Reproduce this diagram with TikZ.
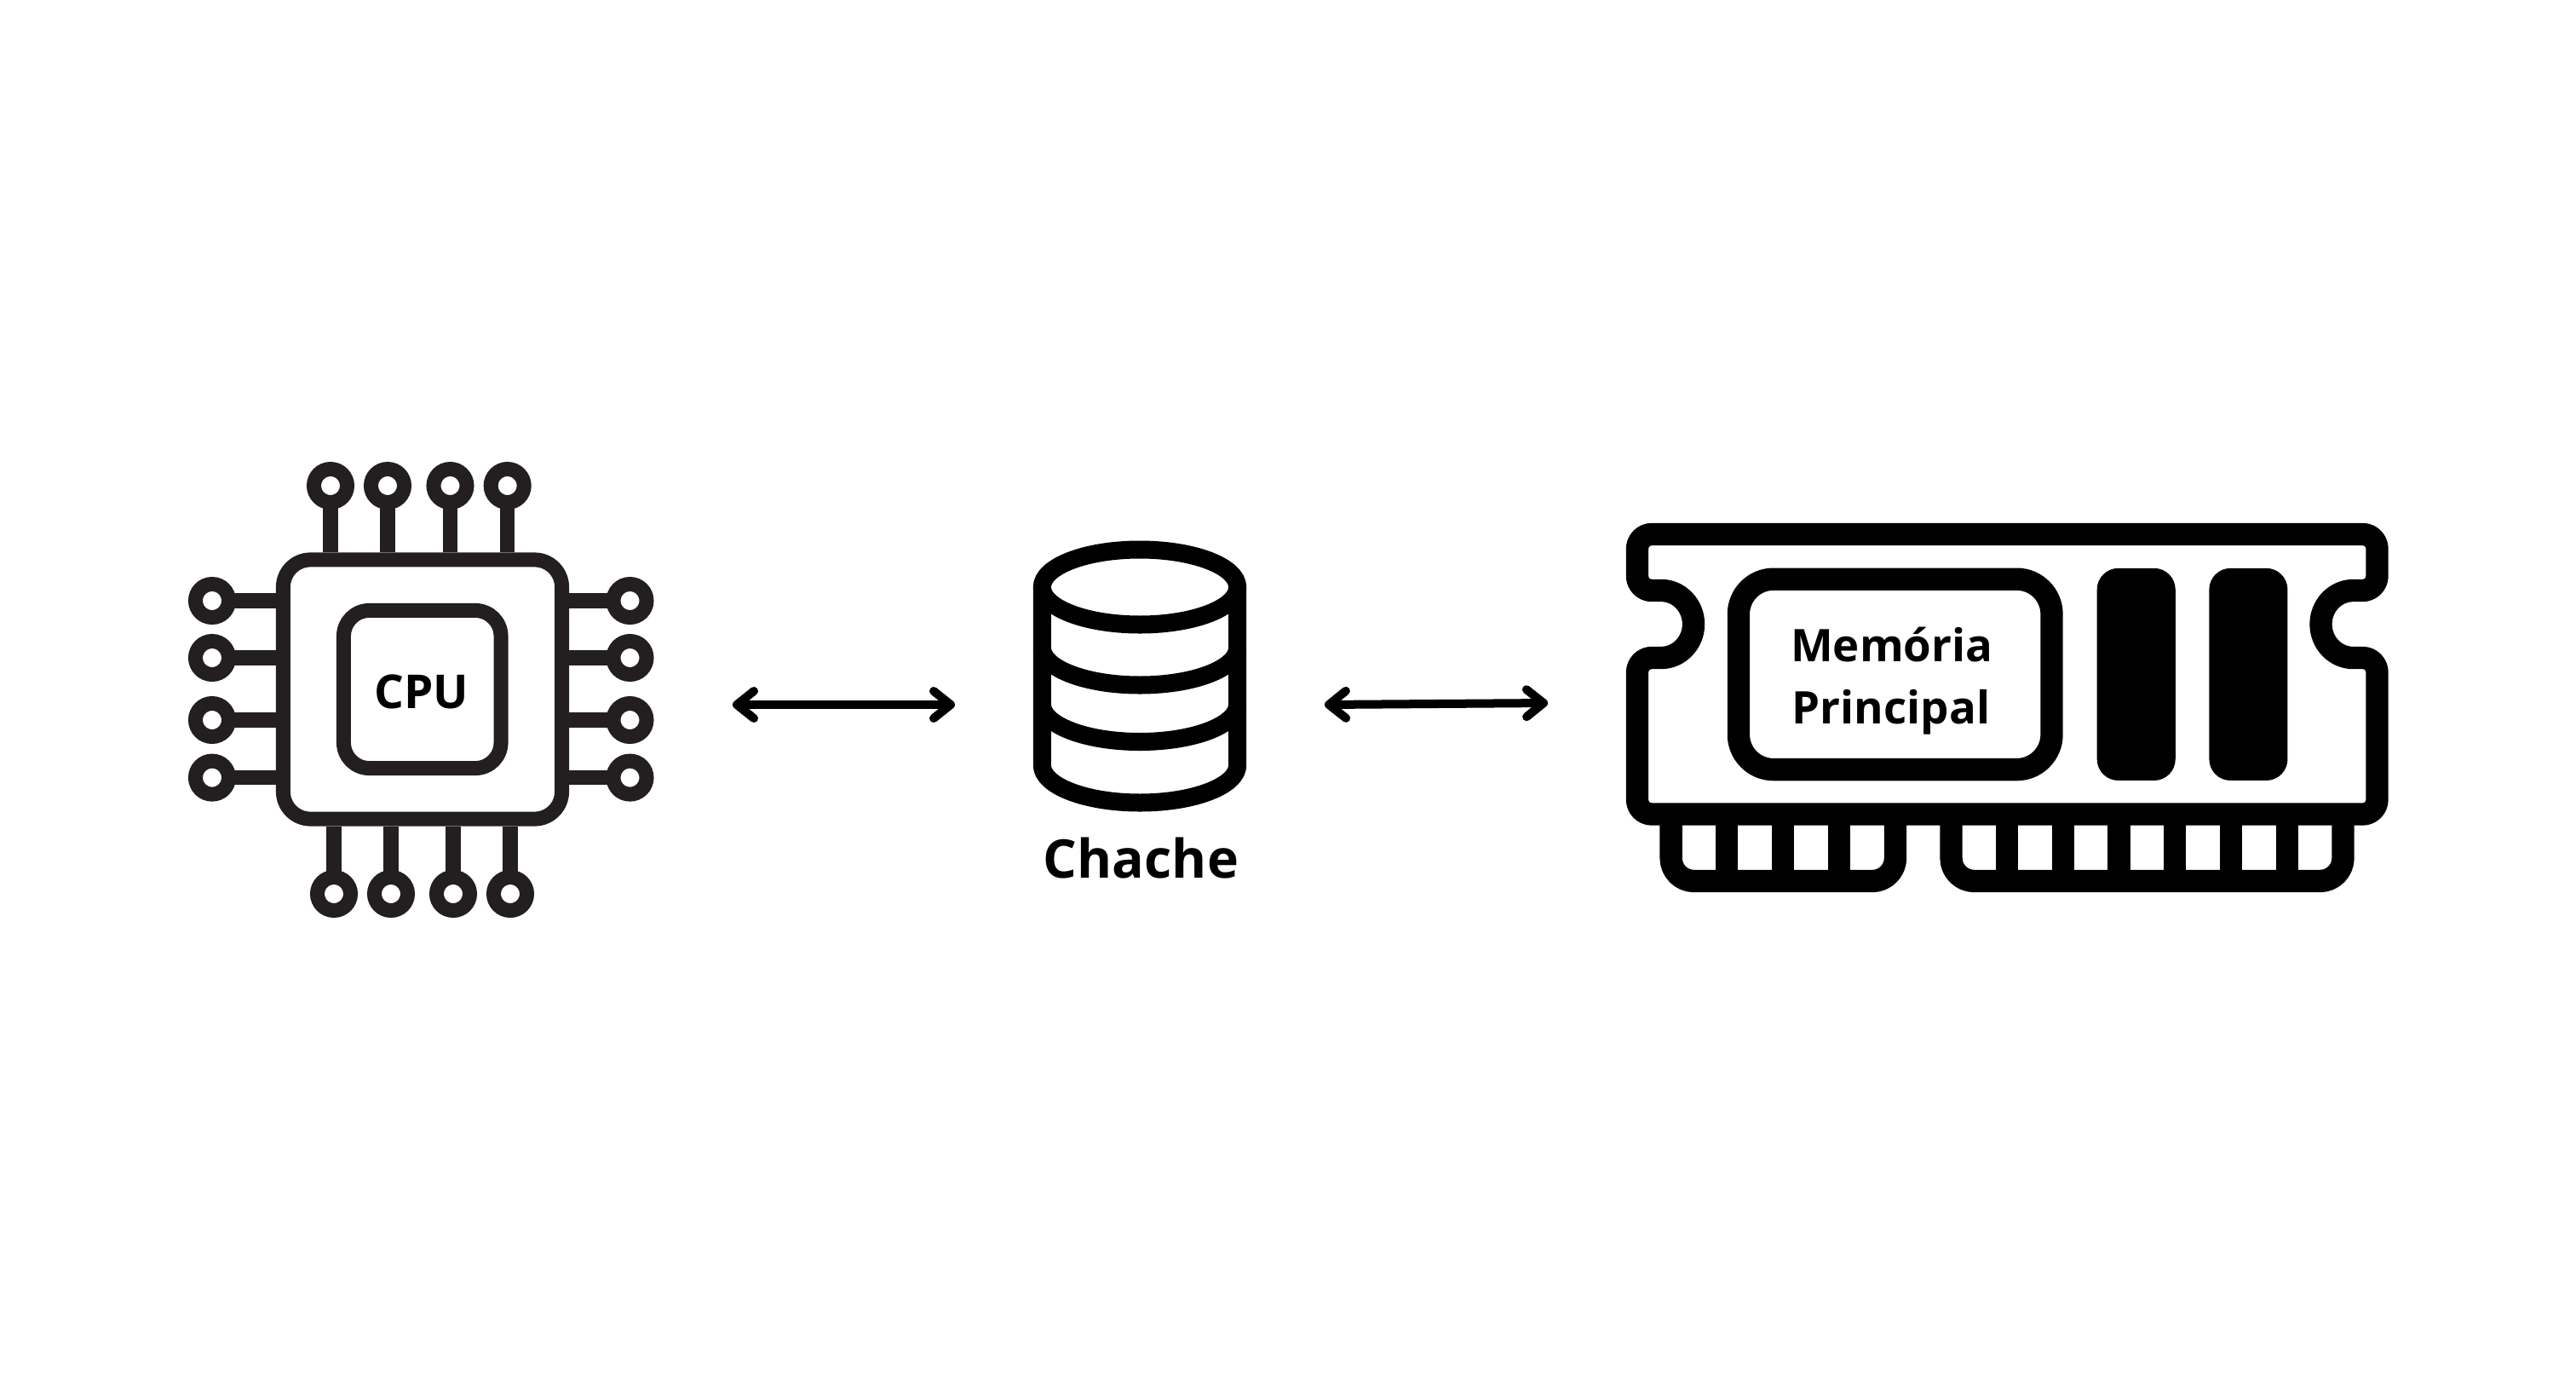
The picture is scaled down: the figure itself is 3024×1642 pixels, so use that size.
\documentclass[tikz,border=0pt]{standalone}
\usepackage{fontspec}
\setmainfont{Open Sans}
\usetikzlibrary{arrows.meta}
\definecolor{icon}{HTML}{231F20}
\tikzset{
  cpuline/.style={draw=icon,line width=.175cm,shorten <=-.06cm},
  padnode/.style={circle,draw=icon,fill=white,line width=.17cm,minimum size=.39cm,inner sep=0pt},
  cpubody/.style={rectangle,draw=icon,fill=white,line width=.17cm,rounded corners=.32cm,inner sep=0pt},
  cacheline/.style={draw=black,line width=.21cm,line join=round},
  ramline/.style={draw=black,line width=.263cm,line join=round},
  ramslot/.style={rectangle,fill=black,rounded corners=.25cm,minimum width=.92cm,minimum height=2.49cm,inner sep=0pt},
  biarrow/.style={draw=black,line width=.1cm,{Straight Barb[length=.2cm,width=.32cm,line width=.1cm,round]}-{Straight Barb[length=.2cm,width=.32cm,line width=.1cm,round]}},
  iconlabel/.style={font=\bfseries,text=black,inner sep=0pt,anchor=base,align=center},
}
\begin{document}
\begin{tikzpicture}[x=.01cm,y=-.01cm]
\useasboundingbox[fill=white] (0,0) rectangle (3024,1642);
%% CPU
\node[cpubody,minimum width=3.27cm,minimum height=3.04cm] (cpu) at (496,809) {};
\node[cpubody,minimum width=1.845cm,minimum height=1.85cm,rounded corners=.3cm] (chip) at (495.75,809) {};
\foreach \n/\x in {1/388,2/455,3/528.5,4/595.7}{
  \node[padnode] (t\n) at (\x,570) {};
  \draw[cpuline] (t\n) -- (t\n |- cpu.north);
}
\foreach \n/\x in {1/392,2/459,3/532,4/599}{
  \node[padnode] (b\n) at (\x,1049) {};
  \draw[cpuline] (b\n) -- (b\n |- cpu.south);
}
\foreach \n/\y in {1/705,2/772,3/845,4/912.6}{
  \node[padnode] (l\n) at (249,\y) {};
  \draw[cpuline] (l\n) -- (l\n -| cpu.west);
  \node[padnode] (r\n) at (739.5,\y) {};
  \draw[cpuline] (r\n) -- (r\n -| cpu.east);
}
\node[iconlabel,font=\fontsize{15.6pt}{18pt}\bfseries] (cpulabel) at (494.5,831) {CPU};
%% Cache
\draw[cacheline] (1223.3,689) .. controls (1223.3,664.7) and (1274.65,645) .. (1338,645)
  .. controls (1401.35,645) and (1452.7,664.7) .. (1452.7,689)
  .. controls (1452.7,713.3) and (1401.35,733) .. (1338,733)
  .. controls (1274.65,733) and (1223.3,713.3) .. (1223.3,689) -- cycle;
\draw[cacheline] (1223.3,689) -- (1223.3,898) .. controls (1223.3,922.3) and (1274.65,942) .. (1338,942)
  .. controls (1401.35,942) and (1452.7,922.3) .. (1452.7,898) -- (1452.7,689);
\draw[cacheline] (1223.3,760) .. controls (1223.3,784.3) and (1274.65,804) .. (1338,804)
  .. controls (1401.35,804) and (1452.7,784.3) .. (1452.7,760);
\draw[cacheline] (1223.3,826.5) .. controls (1223.3,850.8) and (1274.65,870.5) .. (1338,870.5)
  .. controls (1401.35,870.5) and (1452.7,850.8) .. (1452.7,826.5);
\node[iconlabel,font=\fontsize{17.8pt}{20pt}\bfseries] (cachelabel) at (1339.5,1030) {Chache};
%% RAM
\draw[ramline] (1939,627) -- (2773.5,627) arc[start angle=90,end angle=0,radius=.17cm]
  -- (2790.5,676) arc[start angle=0,end angle=-90,radius=.17cm]
  -- (2762.5,693) arc[start angle=90,end angle=270,x radius=.38cm,y radius=.395cm]
  -- (2773.5,772) arc[start angle=90,end angle=0,radius=.17cm]
  -- (2790.5,938.5) arc[start angle=0,end angle=-90,radius=.17cm]
  -- (1939,955.5) arc[start angle=270,end angle=180,radius=.17cm]
  -- (1922,789) arc[start angle=180,end angle=90,radius=.17cm]
  -- (1950,772) arc[start angle=-90,end angle=90,x radius=.38cm,y radius=.395cm]
  -- (1939,693) arc[start angle=270,end angle=180,radius=.17cm]
  -- (1922,644) arc[start angle=180,end angle=90,radius=.17cm] -- cycle;
\node[rectangle,draw=black,line width=.263cm,rounded corners=.41cm,minimum width=3.674cm,minimum height=2.233cm,inner sep=0pt] (ramchip) at (2224.7,791.4) {};
\node[ramslot] (slot1) at (2507.7,791.4) {};
\node[ramslot] (slot2) at (2639.4,791.4) {};
\draw[ramline,rounded corners=.27cm] (1961.6,955) -- (1961.6,1034) -- (2225,1034) -- (2225,955);
\draw[ramline,rounded corners=.27cm] (2290.5,955) -- (2290.5,1034) -- (2750.5,1034) -- (2750.5,955);
\foreach \x in {2027.3,2093,2159,2356,2422,2487.5,2553.3,2619,2685}{
  \draw[ramline] (\x,955) -- (\x,1034);
}
\node[iconlabel,font=\fontsize{15pt}{18pt}\bfseries] (memlabel) at (2220.7,776.7) {Memória};
\node[iconlabel,font=\fontsize{15pt}{18pt}\bfseries] (prilabel) at (2220,849) {Principal};
%% Arrows
\coordinate (a1l) at (860,827);
\coordinate (a1r) at (1121,827);
\coordinate (a2l) at (1555,827);
\coordinate (a2r) at (1817,825);
\draw[biarrow] (a1l) -- (a1r);
\draw[biarrow] (a2l) -- (a2r);
\end{tikzpicture}
\end{document}
